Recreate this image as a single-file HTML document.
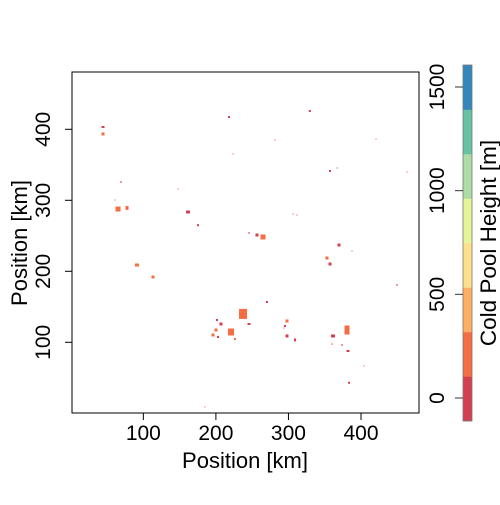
<!DOCTYPE html>
<html><head><meta charset="utf-8"><style>
body{margin:0;background:#fff}
svg text{font-family:"Liberation Sans",Arial,sans-serif;fill:#000}
</style></head><body>
<svg id="chart" width="500" height="500" viewBox="0 0 500 500" xmlns="http://www.w3.org/2000/svg">
<g id="cells"></g>
<rect x="72" y="72" width="347" height="341" fill="none" stroke="#000" stroke-width="1"/>
<g id="axes"></g>
<text x="245" y="468" font-size="22" text-anchor="middle">Position [km]</text>
<text transform="translate(27,243) rotate(-90)" font-size="22" text-anchor="middle">Position [km]</text>
<g id="cbar"></g>
<text transform="translate(496,243) rotate(-90)" font-size="22.5" text-anchor="middle">Cold Pool Height [m]</text>
</svg>
<script>
const xKm=[44.4,44.4,69.2,60.9,65.1,77.5,147.8,161.5,175.3,91.2,113.3,218.1,223.6,245.6,256.6,264.9,369.7,387.6,353.1,357.3,237.4,201.5,207.0,200.1,220.8,196.0,202.9,226.3,245.6,270.4,298.0,295.2,298.0,309.1,361.4,360.1,373.8,382.1,380.7,404.1,329.4,281.4,420.7,357.3,367.0,463.4,306.3,311.8,449.6,383.5,293.8,184.8];
const yKm=[403.2,393.4,325.8,300.4,287.7,289.2,315.9,283.5,264.9,208.9,192.0,417.3,365.2,254.0,251.1,248.3,237.0,228.6,218.7,210.3,140.0,131.4,125.8,117.3,114.5,110.3,107.5,104.6,125.8,156.8,130.0,123.0,108.9,103.3,108.9,97.6,96.2,87.7,117.3,66.6,425.8,384.9,386.3,341.3,345.5,339.9,280.7,279.3,180.7,43.0,120.1,8.9];
const cellW=[3,3,2,1,5,3,1,4,2,4,3,2,1,2,3,5,3,1,3,3,8,2,3,3,6,3,2,2,3,2,3,2,3,2,4,2,1,3,5,1,2,1,1,2,1,1,1,1,2,2,1,1];
const cellH=[2,3,1,1,5,4,1,3,2,3,3,2,1,1,3,5,3,1,3,3,10,2,3,3,7,3,2,2,2,2,3,2,3,3,3,1,2,2,9,1,2,1,1,2,1,1,1,1,1,2,1,1];
const level=[0,1,0,0,1,1,0,0,0,1,1,0,0,0,0,1,0,0,1,0,1,0,0,1,1,1,0,1,0,0,1,0,0,0,0,1,0,0,1,0,0,0,0,0,0,0,0,0,0,0,0,0];
const xTicks=[100,200,300,400];
const yTicks=[100,200,300,400];
const cbTicks=[0,500,1000,1500];
const cbColors=["#D53E4F","#F46D43","#FDAE61","#FEE08B","#E6F598","#ABDDA4","#66C2A5","#3288BD"];
const NS="http://www.w3.org/2000/svg";
function sx(v){return 70.8+v*0.7255;}
function sy(v){return 413.3-v*0.71;}
function cy(v){return 398-(v)*(398-87)/1500;}
function mk(tag,attrs,parent){const e=document.createElementNS(NS,tag);for(const k in attrs)e.setAttribute(k,attrs[k]);parent.appendChild(e);return e;}
const cells=document.getElementById('cells');
for(let i=0;i<xKm.length;i++){
  const w=cellW[i],h=cellH[i];
  const r=mk('rect',{x:sx(xKm[i])-w/2,y:sy(yKm[i])-h/2,width:w,height:h,fill:cbColors[level[i]]},cells);
  
  
}
const axes=document.getElementById('axes');
xTicks.forEach(t=>{
  const l=mk('line',{x1:sx(t),x2:sx(t),y1:413,y2:420,stroke:'#000'},axes);
  
  
  const tx=mk('text',{x:sx(t),y:440,'font-size':21,'text-anchor':'middle'},axes);tx.textContent=t;
  
  
});
yTicks.forEach(t=>{
  const l=mk('line',{x1:65,x2:72,y1:sy(t),y2:sy(t),stroke:'#000'},axes);
  
  
  const tx=mk('text',{transform:`translate(50,${sy(t)}) rotate(-90)`,'font-size':21,'text-anchor':'middle'},axes);tx.textContent=t;
  
  
});
const cb=document.getElementById('cbar');
const cbTop=65,cbBot=421,seg=(cbBot-cbTop)/cbColors.length;
cbColors.forEach((c,i)=>{
  const r=mk('rect',{x:463,y:cbBot-(i+1)*seg,width:9,height:seg+0.3,fill:c},cb);
  
  
});
mk('rect',{x:463,y:cbTop,width:9,height:cbBot-cbTop,fill:'none',stroke:'#777','stroke-width':0.8},cb);
cbTicks.forEach(t=>{
  const l=mk('line',{x1:455,x2:463,y1:cy(t),y2:cy(t),stroke:'#333'},cb);
  
  
  const tx=mk('text',{transform:`translate(444,${cy(t)}) rotate(-90)`,'font-size':21,'text-anchor':'middle'},cb);tx.textContent=t;
  
  
});
</script>
</body></html>
